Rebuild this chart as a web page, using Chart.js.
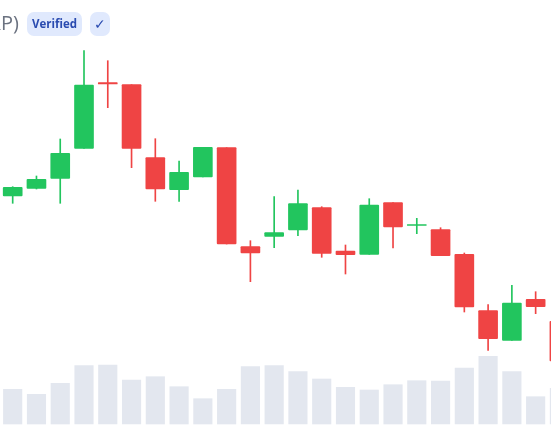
<!DOCTYPE html>
<html lang="en">
<head>
<meta charset="UTF-8">
<title>Candles</title>
<style>
    html, body { margin: 0; padding: 0; background: #fff; overflow: hidden; }
    #wrap { position: relative; width: 551px; height: 431px; overflow: hidden; }
    #myChart { position: absolute; left: 0; top: 0; }
    #name { position: absolute; right: 532px; top: 9px; font: 20px "Open Sans", sans-serif; color: #6b7280; white-space: nowrap; }
    .badge { position: absolute; top: 12px; height: 24px; text-align: center; background: #e0e9fd; color: #2a4bb0; border-radius: 7px; font: bold 11.5px/24px "Open Sans", sans-serif; }
</style>
</head>
<body>
<div id="wrap">
    <canvas id="myChart" width="551" height="431"></canvas>
    <span id="name">(XRP)</span>
    <span class="badge" style="left:27px;width:55px">Verified</span>
    <span class="badge" style="left:90px;width:20px;font-weight:normal;font-size:14px">✓</span>
</div>
<script src="https://cdn.jsdelivr.net/npm/chart.js"></script>
<script>
const open_   = [23.5, 24.27, 25.27, 28.27, 34.83, 34.63, 27.33, 24.13, 25.4, 28.33, 18.43, 19.47, 20.1, 22.33, 18, 17.67, 22.83, 20.57, 20.13, 17.67, 12.03, 9.07, 13.17, 10.97]
const close_  = [24.37, 25.17, 27.77, 34.6, 34.7, 28.27, 24.2, 25.87, 28.37, 18.7, 17.8, 19.83, 22.73, 17.77, 17.63, 22.6, 20.4, 20.63, 17.53, 12.4, 9.23, 12.8, 12.43, 7]
const high_   = [24.43, 25.5, 29.2, 38.03, 37.03, 34.63, 29.23, 27, 28.37, 28.33, 19.03, 23.43, 24.1, 22.43, 18.6, 23.23, 22.83, 21.27, 20.33, 17.8, 12.63, 14.57, 13.93, 10.97]
const low_    = [22.77, 24.2, 22.77, 28.27, 32.33, 26.33, 22.97, 22.97, 25.4, 18.7, 14.93, 18.33, 19.53, 17.37, 15.7, 17.67, 18.3, 19.73, 17.53, 11.9, 8.07, 9.07, 11.73, 7]
const volume_ = [34.7, 29.7, 40.7, 58.3, 59, 44, 47.3, 37.3, 25.3, 34.7, 57.3, 58.3, 52.3, 45, 36.7, 34, 39.3, 43.3, 43, 56, 67.7, 52.3, 27.3, 35.7]

const GREEN = '#22c55e'
const RED = '#ef4444'
const colors = open_.map((o, i) => close_[i] >= o ? GREEN : RED)

new Chart(document.getElementById('myChart'), {
    type: 'bar',
    data: {
        datasets: [
            {
                label: 'Body',
                data: open_.map((o, i) => ({ x: i, y: [o, close_[i]] })),
                backgroundColor: colors,
                barThickness: 19,
                borderRadius: 1,
                borderSkipped: false,
                grouped: false,
                yAxisID: 'y'
            },
            {
                label: 'Wick',
                data: high_.map((h, i) => ({ x: i, y: [low_[i], h] })),
                backgroundColor: colors,
                barThickness: 1,
                grouped: false,
                yAxisID: 'y'
            },
            {
                label: 'Volume',
                data: volume_.map((v, i) => ({ x: i, y: v })),
                backgroundColor: '#e3e7ef',
                barThickness: 18.5,
                grouped: false,
                yAxisID: 'yVol'
            }
        ]
    },
    options: {
        responsive: false,
        animation: false,
        layout: { padding: 0 },
        plugins: { legend: { display: false }, tooltip: { enabled: false } },
        scales: {
            x: { type: 'linear', offset: false, min: -0.534, max: 22.646, display: false },
            y: { min: 0, max: 43.1, display: false },
            yVol: { min: -7, max: 424, display: false }
        }
    }
})
</script>
</body>
</html>
